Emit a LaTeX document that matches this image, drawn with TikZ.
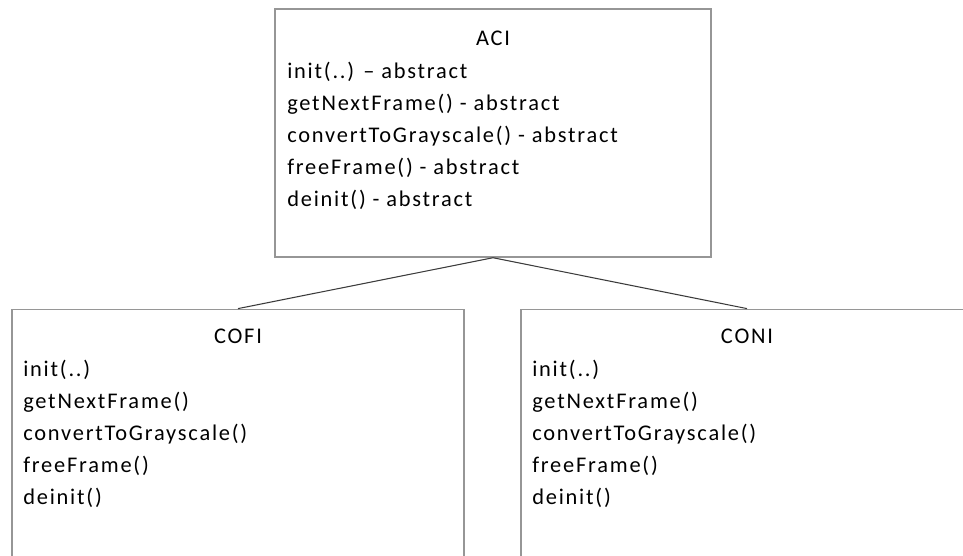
\documentclass[tikz,border=0pt]{standalone}
\usepackage{fontspec}
\setmainfont{Carlito}[LetterSpace=8]
\usepackage{tikz}
\definecolor{boxgray}{RGB}{150,150,150}
\definecolor{linegray}{RGB}{60,60,60}
\begin{document}
\begin{tikzpicture}[x=0.75pt, y=-0.75pt,
    classbox/.style={draw=boxgray, line width=1.1pt, minimum width=327pt, minimum height=186pt},
    methods/.style={anchor=north west, inner sep=0pt, align=left, font=\fontsize{16.8}{24}\selectfont},
    title/.style={anchor=base, inner sep=0pt, font=\fontsize{16.8}{24}\selectfont}]
    \useasboundingbox (0,0) rectangle (963,556);
        \node(ACI)[classbox] at (493,133) {};
        \node(COFI)[classbox, minimum width=339pt, minimum height=190pt] at (238,436) {};
        \node(CONI)[classbox, minimum width=339pt, minimum height=190pt] at (747,436) {};
   \node(ACItitle)[title] at (493,46) {ACI};
   \node(ACIops)[methods] at (287,62) {init(..) -- abstract\\getNextFrame() - abstract\\convertToGrayscale() - abstract\\freeFrame() - abstract\\deinit() - abstract};
   \node(COFItitle)[title] at (238,343) {COFI};
   \node(COFIops)[methods] at (23,360) {init(..)\\getNextFrame()\\convertToGrayscale()\\freeFrame()\\deinit()};
   \node(CONItitle)[title] at (747,343) {CONI};
   \node(CONIops)[methods] at (532,360) {init(..)\\getNextFrame()\\convertToGrayscale()\\freeFrame()\\deinit()};
    \draw[linegray, line width=0.8pt] (ACI.south) -- (COFI.north);
    \draw[linegray, line width=0.8pt] (ACI.south) -- (CONI.north);
    \end{tikzpicture}
\end{document}
